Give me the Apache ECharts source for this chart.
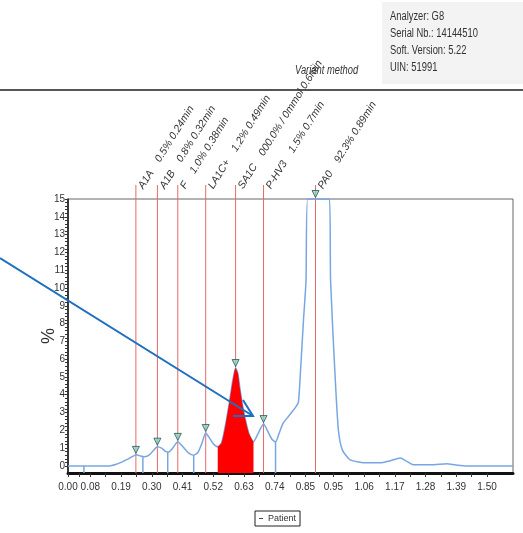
<!DOCTYPE html>
<html>
<head>
<meta charset="utf-8">
<script src="https://cdn.jsdelivr.net/npm/echarts@6/dist/echarts.min.js"></script>
<style>
  html, body { margin: 0; padding: 0; background: #fff; }
  #main { width: 523px; height: 533px; }
</style>
</head>
<body>
<div id="main"></div>
<script>
// chromatogram trace (retention time in min, signal in %)
var curveTimes = [0, 0.05, 0.10, 0.15, 0.17, 0.19, 0.21, 0.23, 0.245, 0.26, 0.275, 0.29, 0.305, 0.32, 0.335, 0.35,
  0.36, 0.375, 0.393, 0.41, 0.43, 0.45, 0.465, 0.48, 0.493, 0.505, 0.52, 0.536, 0.55, 0.565, 0.578, 0.59, 0.60,
  0.608, 0.615, 0.625, 0.635, 0.648, 0.664, 0.68, 0.70, 0.715, 0.73, 0.743, 0.755, 0.77, 0.785, 0.80, 0.815,
  0.825, 0.833, 0.843, 0.852, 0.858, 0.886, 0.936, 0.94, 0.957, 0.968, 0.982, 1.01, 1.07, 1.118, 1.15, 1.19,
  1.21, 1.236, 1.30, 1.357, 1.386, 1.43, 1.593];
var curveValues = [0, 0, 0, 0, 0.08, 0.2, 0.35, 0.52, 0.62, 0.55, 0.52, 0.6, 0.85, 1.08, 1.0, 0.8,
  0.78, 1.0, 1.35, 1.1, 0.75, 0.6, 0.75, 1.3, 1.85, 1.6, 1.25, 1.07, 1.3, 2.4, 3.6, 4.8, 5.5,
  5.2, 4.4, 3.4, 2.6, 1.8, 1.35, 1.8, 2.35, 1.95, 1.5, 1.35, 1.8, 2.4, 2.7, 3.0, 3.3,
  3.6, 5.5, 8.2, 10.4, 15, 15, 15, 10.4, 4.8, 2.0, 0.9, 0.34, 0.17, 0.17, 0.28, 0.45,
  0.28, 0.06, 0.06, 0.12, 0.06, 0, 0];

// identified peaks
var peakNames = ['A1A', 'A1B', 'F', 'LA1C+', 'SA1C', 'P-HV3', 'PA0'];
var peakPercents = ['0.5%', '0.8%', '1.0%', '1.2%', '000.0% / 0mmol', '1.5%', '92.3%'];
var peakTimeLabels = ['0.24min', '0.32min', '0.38min', '0.49min', '0.6min', '0.7min', '0.89min'];
var peakTimes = [0.243, 0.32, 0.393, 0.493, 0.60, 0.70, 0.886];
var peakHeights = [0.62, 1.08, 1.35, 1.85, 5.5, 2.35, 15];

// integration limits (blue drop lines)
var dropTimes = [0.057, 0.268, 0.357, 0.45, 0.743];
var dropHeights = [0, 0.52, 0.78, 0.6, 1.35];

// shaded SA1C window
var fillStart = 0.536;
var fillEnd = 0.664;

var xTickLabels = ['0.00', '0.08', '0.19', '0.30', '0.41', '0.52', '0.63', '0.74', '0.85', '0.95', '1.06', '1.17', '1.28', '1.39', '1.50'];
var yTickLabels = [0, 1, 2, 3, 4, 5, 6, 7, 8, 9, 10, 11, 12, 13, 14, 15];

var FONT = "'Liberation Sans Narrow', 'Liberation Sans', sans-serif";
var Y_MIN = -0.4;

var curveData = curveTimes.map(function (t, i) { return [t, curveValues[i]]; });
var fillData = curveData.filter(function (d) { return d[0] >= fillStart && d[0] <= fillEnd; });

var xLabelVals = xTickLabels.map(function (s) { return parseFloat(s); });
var xTickVals = [];
for (var i = 0; i < xLabelVals.length; i++) {
  xTickVals.push(xLabelVals[i]);
  if (i < xLabelVals.length - 1) xTickVals.push((xLabelVals[i] + xLabelVals[i + 1]) / 2);
}
var yTickVals = [];
for (var k = 0; k <= 75; k++) yTickVals.push(k / 5);

// header block text, squeezed to look like the narrow print font
function headerText(x, y, str, italic) {
  return {
    type: 'text', x: x, y: y, scaleX: 0.78,
    style: { text: str, font: (italic ? 'italic ' : '') + '12px ' + FONT, fill: '#333', verticalAlign: 'middle' }
  };
}

var chart = echarts.init(document.getElementById('main'));

var option = {
  animation: false,
  backgroundColor: '#fff',
  grid: {
    left: 68, right: 10, top: 199, bottom: 60,
    show: true, borderColor: '#666', borderWidth: 1
  },
  legend: {
    left: 255, top: 511,
    padding: [3, 4],
    borderColor: '#222', borderWidth: 1,
    itemWidth: 4, itemHeight: 1, itemGap: 3,
    textStyle: { fontFamily: FONT, fontSize: 9, color: '#333' },
    data: [{ name: 'Patient', icon: 'rect', itemStyle: { color: '#444' } }]
  },
  xAxis: {
    type: 'value', min: 0, max: 1.593,
    splitLine: { show: false },
    axisLine: { onZero: false, lineStyle: { color: '#111', width: 3 } },
    axisTick: { customValues: xTickVals, length: 4, lineStyle: { color: '#333' } },
    axisLabel: {
      customValues: xLabelVals, margin: 9,
      fontFamily: FONT, fontSize: 10, color: '#333',
      formatter: function (v) {
        var idx = xLabelVals.indexOf(v);
        return idx >= 0 ? xTickLabels[idx] : '';
      }
    }
  },
  yAxis: {
    type: 'value', min: Y_MIN, max: 15,
    name: '%', nameLocation: 'middle', nameRotate: 90, nameGap: 10,
    nameMoveOverlap: false,
    nameTextStyle: { fontFamily: FONT, fontSize: 18, color: '#333' },
    splitLine: { show: false },
    axisLine: { show: true, lineStyle: { color: '#111', width: 1.5 } },
    axisTick: { customValues: yTickVals, length: 3, lineStyle: { color: '#333' } },
    axisLabel: {
      customValues: yTickLabels, margin: 3,
      fontFamily: FONT, fontSize: 10, color: '#333'
    }
  },
  graphic: [
    { type: 'rect', shape: { x: 382, y: 2, width: 141, height: 82 }, style: { fill: '#f3f3f3' } },
    headerText(390, 17, 'Analyzer: G8'),
    headerText(390, 34, 'Serial Nb.: 14144510'),
    headerText(390, 51, 'Soft. Version: 5.22'),
    headerText(390, 68, 'UIN: 51991'),
    headerText(295, 71, 'Variant method', true),
    { type: 'line', shape: { x1: 0, y1: 90, x2: 523, y2: 90 }, style: { stroke: '#555', lineWidth: 2 } },
    // arrow drawn on the printout
    { type: 'line', z: 100, shape: { x1: 0, y1: 258, x2: 253, y2: 416 }, style: { stroke: '#1f6fc0', lineWidth: 2 } },
    { type: 'polyline', z: 100, shape: { points: [[243, 400], [253, 416], [233, 416]] }, style: { stroke: '#1f6fc0', lineWidth: 2, fill: null } }
  ],
  series: [
    {
      name: 'Patient',
      type: 'line',
      data: curveData,
      showSymbol: false,
      smooth: 0.2,
      clip: true,
      lineStyle: { color: '#78a6e2', width: 1.5 },
      z: 3
    },
    {
      name: 'SA1C area',
      type: 'line',
      data: fillData,
      showSymbol: false,
      smooth: 0.2,
      lineStyle: { width: 0 },
      areaStyle: { color: '#ff0000', opacity: 1, origin: 'start' },
      z: 4
    },
    {
      name: 'drops',
      type: 'custom',
      data: dropTimes.map(function (t, i) { return [t, dropHeights[i]]; }),
      renderItem: function (params, api) {
        var top = api.coord([api.value(0), api.value(1)]);
        var bot = api.coord([api.value(0), Y_MIN]);
        return {
          type: 'line',
          shape: { x1: top[0], y1: top[1], x2: bot[0], y2: bot[1] },
          style: { stroke: '#78a6e2', lineWidth: 1.5 }
        };
      },
      z: 3
    },
    {
      name: 'peaks',
      type: 'custom',
      clip: false,
      data: peakTimes.map(function (t, i) { return [t, peakHeights[i]]; }),
      renderItem: function (params, api) {
        var idx = params.dataIndex;
        var x = api.coord([api.value(0), 0])[0];
        var bot = api.coord([api.value(0), Y_MIN])[1];
        var top = params.coordSys.y - 14;
        return {
          type: 'group',
          children: [
            {
              type: 'line',
              shape: { x1: x, y1: bot, x2: x, y2: top },
              style: { stroke: '#e46a6a', lineWidth: 1 }
            },
            {
              type: 'text',
              x: x + 5, y: top + 3,
              rotation: 58 * Math.PI / 180,
              style: {
                text: peakNames[idx] + '    ' + peakPercents[idx] + ' ' + peakTimeLabels[idx],
                font: 'italic 10.5px ' + FONT,
                fill: '#333', align: 'left', verticalAlign: 'middle'
              }
            }
          ]
        };
      },
      z: 2
    },
    {
      name: 'markers',
      type: 'scatter',
      clip: false,
      data: peakTimes.map(function (t, i) { return [t, peakHeights[i]]; }),
      symbol: 'triangle',
      symbolRotate: 180,
      symbolSize: 7,
      symbolOffset: [0, -5],
      itemStyle: { color: '#8fd0c4', borderColor: '#1f5c55', borderWidth: 1 },
      z: 6
    }
  ]
};

chart.setOption(option);
</script>
</body>
</html>
